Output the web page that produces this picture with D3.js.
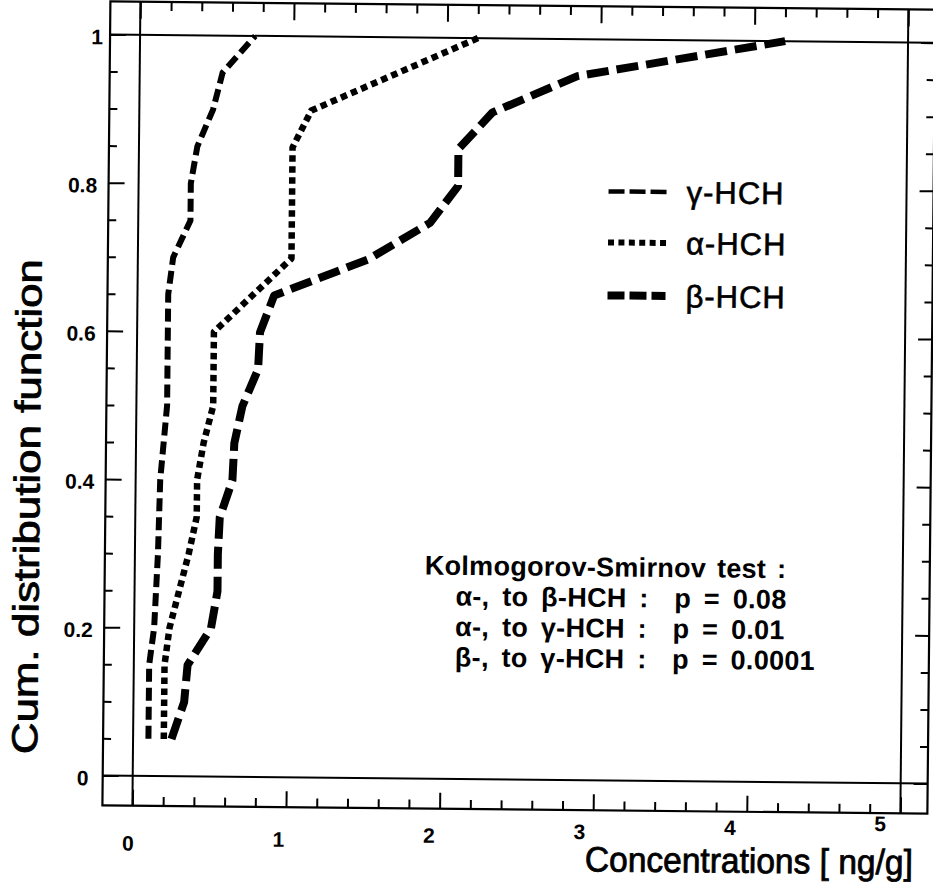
<!DOCTYPE html>
<html>
<head>
<meta charset="utf-8">
<script src="https://cdn.jsdelivr.net/npm/d3@7"></script>
<style>
  body { margin: 0; background: #fff; }
  svg { display: block; }
</style>
</head>
<body>
<div id="chart"></div>
<script>
// data: [concentration ng/g, cumulative fraction]
const gammaHCH = [
  [0.10, 0.05], [0.10, 0.15], [0.13, 0.20], [0.15, 0.30], [0.16, 0.40],
  [0.18, 0.45], [0.20, 0.50], [0.20, 0.65], [0.23, 0.70], [0.34, 0.75],
  [0.34, 0.80], [0.38, 0.85], [0.48, 0.90], [0.54, 0.95], [0.75, 1.00]
];
const alphaHCH = [
  [0.20, 0.05], [0.20, 0.15], [0.23, 0.20], [0.29, 0.25], [0.35, 0.30],
  [0.40, 0.35], [0.40, 0.40], [0.44, 0.45], [0.50, 0.50], [0.50, 0.60],
  [0.75, 0.65], [1.00, 0.70], [1.00, 0.85], [1.12, 0.90], [2.20, 1.00]
];
const betaHCH = [
  [0.25, 0.05], [0.33, 0.10], [0.35, 0.15], [0.50, 0.20], [0.54, 0.25],
  [0.54, 0.30], [0.55, 0.35], [0.63, 0.40], [0.64, 0.45], [0.69, 0.50],
  [0.79, 0.55], [0.80, 0.60], [0.89, 0.65], [1.50, 0.70], [1.90, 0.75],
  [2.08, 0.80], [2.08, 0.85], [2.30, 0.90], [2.85, 0.95], [4.20, 1.00]
];

const seriesNames = ["\u03b3-HCH", "\u03b1-HCH", "\u03b2-HCH"];
const xTicks = [0, 1, 2, 3, 4, 5];
const yTicks = [0, 0.2, 0.4, 0.6, 0.8, 1];
const yTickLabels = ["0", "0.2", "0.4", "0.6", "0.8", "1"];
const ksLines = [
  "Kolmogorov-Smirnov test :",
  "\u03b1-, to \u03b2-HCH :  p = 0.08",
  "\u03b1-, to \u03b3-HCH :  p = 0.01",
  "\u03b2-, to \u03b3-HCH :  p = 0.0001"
];

const width = 933,
  height = 892;

// frame of the plot (the scan is slightly tilted, see rotate below)
const frame = { left: 106, top: 5, right: 931, bottom: 809 };

const x = d3.scaleLinear().domain([0, 5]).range([136, 904]);
const y = d3.scaleLinear().domain([0, 1]).range([779, 38]);

const svg = d3
  .select("#chart")
  .append("svg")
  .attr("width", width)
  .attr("height", height)
  .style("background", "#fff");

const g = svg.append("g").attr("transform", "rotate(0.57, 466, 446)");

// outer box
g.append("rect")
  .attr("x", frame.left)
  .attr("y", frame.top)
  .attr("width", frame.right - frame.left)
  .attr("height", frame.bottom - frame.top)
  .attr("fill", "none")
  .attr("stroke", "#000")
  .attr("stroke-width", 2.2);

// inner lines at x = 0, 5 and y = 0, 1
g.selectAll(".vline")
  .data([0, 5])
  .enter()
  .append("line")
  .attr("x1", (d) => x(d))
  .attr("x2", (d) => x(d))
  .attr("y1", frame.top)
  .attr("y2", frame.bottom)
  .attr("stroke", "#000")
  .attr("stroke-width", 2);

g.selectAll(".hline")
  .data([0, 1])
  .enter()
  .append("line")
  .attr("x1", frame.left)
  .attr("x2", frame.right)
  .attr("y1", (d) => y(d))
  .attr("y2", (d) => y(d))
  .attr("stroke", "#000")
  .attr("stroke-width", 2);

// ticks, all pointing inward from the outer box
const xMinor = d3.range(0, 5.001, 0.2).filter((v) => Math.abs(v - Math.round(v)) > 1e-6);
const yMinor = d3.range(0, 1.0001, 0.05).filter((v) => Math.abs(v * 5 - Math.round(v * 5)) > 1e-6);

function tickAxis(axis, tx, ty) {
  g.append("g")
    .attr("transform", `translate(${tx},${ty})`)
    .call(axis)
    .call((s) => s.select(".domain").remove())
    .call((s) => s.selectAll("line").attr("stroke", "#000").attr("stroke-width", 2));
}

tickAxis(d3.axisBottom(x).tickValues(xTicks).tickSize(17).tickFormat(""), 0, frame.top);
tickAxis(d3.axisBottom(x).tickValues(xMinor).tickSize(9).tickFormat(""), 0, frame.top);
tickAxis(d3.axisTop(x).tickValues(xTicks).tickSize(16).tickFormat(""), 0, frame.bottom);
tickAxis(d3.axisTop(x).tickValues(xMinor).tickSize(9).tickFormat(""), 0, frame.bottom);
tickAxis(d3.axisRight(y).tickValues(yTicks).tickSize(16).tickFormat(""), frame.left, 0);
tickAxis(d3.axisRight(y).tickValues(yMinor).tickSize(8).tickFormat(""), frame.left, 0);
tickAxis(d3.axisLeft(y).tickValues(yTicks).tickSize(14).tickFormat(""), frame.right, 0);
tickAxis(d3.axisLeft(y).tickValues(yMinor).tickSize(8).tickFormat(""), frame.right, 0);

// tick labels
const labelFont = "'Liberation Sans', Arial, sans-serif";

g.selectAll(".ylab")
  .data(yTicks)
  .enter()
  .append("text")
  .attr("x", (d) => (d === 1 ? 93 : d === 0 ? 86 : 80))
  .attr("y", (d) => y(d) + 10)
  .attr("text-anchor", "middle")
  .style("font-family", labelFont)
  .style("font-weight", "bold")
  .style("font-size", "21px")
  .text((d, i) => yTickLabels[i]);

// the x labels sit on a slightly rising line in the original
g.selectAll(".xlab")
  .data(xTicks)
  .enter()
  .append("text")
  .attr("x", (d) => x(d) - 4 - 3.2 * d)
  .attr("y", (d) => 854 - 5.4 * d)
  .attr("text-anchor", "middle")
  .style("font-family", labelFont)
  .style("font-weight", "bold")
  .style("font-size", "21px")
  .text((d) => d);

// axis titles
g.append("text")
  .attr("transform", "translate(40, 511) rotate(-90)")
  .attr("text-anchor", "middle")
  .attr("textLength", 495)
  .attr("lengthAdjust", "spacingAndGlyphs")
  .attr("stroke", "#000")
  .attr("stroke-width", 0.8)
  .style("font-family", labelFont)
  .style("font-size", "36px")
  .text("Cum. distribution function");

g.append("text")
  .attr("x", 589)
  .attr("y", 870)
  .attr("textLength", 328)
  .attr("lengthAdjust", "spacingAndGlyphs")
  .attr("stroke", "#000")
  .attr("stroke-width", 0.8)
  .style("font-family", labelFont)
  .style("font-size", "35px")
  .text("Concentrations [ ng/g]");

// curves
const styles = [
  { data: gammaHCH, width: 6, dash: "13,6" },
  { data: alphaHCH, width: 6.5, dash: "6.5,4.5" },
  { data: betaHCH, width: 8, dash: "22,8" }
];

const line = d3
  .line()
  .x((d) => x(d[0]))
  .y((d) => y(d[1]));

g.selectAll(".curve")
  .data(styles)
  .enter()
  .append("path")
  .attr("d", (d) => line(d.data))
  .attr("fill", "none")
  .attr("stroke", "#000")
  .attr("stroke-width", (d) => d.width)
  .attr("stroke-dasharray", (d) => d.dash)
  .attr("stroke-linejoin", "round");

// legend
const legendDash = ["16,5", "6,4.4", "17,5"];
const legendWidth = [4.5, 6, 8];
const legendY = [190, 241, 294];

const legend = g
  .selectAll(".legend")
  .data(seriesNames)
  .enter()
  .append("g")
  .attr("transform", (d, i) => `translate(0, ${legendY[i]})`);

legend
  .append("line")
  .attr("x1", 606)
  .attr("x2", 664)
  .attr("stroke", "#000")
  .attr("stroke-width", (d, i) => legendWidth[i])
  .attr("stroke-dasharray", (d, i) => legendDash[i]);

legend
  .append("text")
  .attr("x", 684)
  .attr("y", 11)
  .attr("stroke", "#000")
  .attr("stroke-width", 0.6)
  .style("font-family", labelFont)
  .style("font-size", "31px")
  .style("letter-spacing", "1px")
  .text((d) => d);

// Kolmogorov-Smirnov annotation
g.selectAll(".ks")
  .data(ksLines)
  .enter()
  .append("text")
  .attr("x", (d, i) => (i === 0 ? 426 : 457))
  .attr("y", (d, i) => 575 + i * 30.5)
  .style("white-space", "pre")
  .style("word-spacing", (d, i) => (i === 0 ? "3px" : "5px"))
  .style("letter-spacing", "0.3px")
  .style("font-family", labelFont)
  .style("font-weight", "bold")
  .style("font-size", "27px")
  .text((d) => d);
</script>
</body>
</html>
